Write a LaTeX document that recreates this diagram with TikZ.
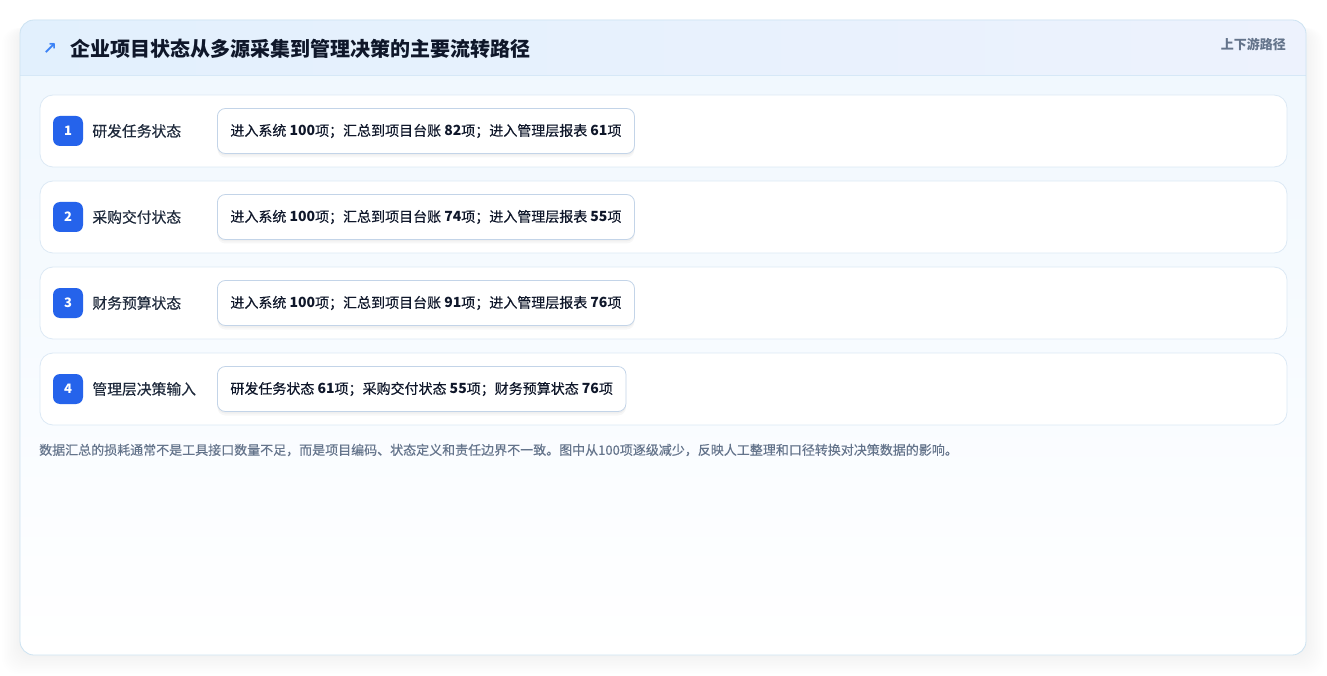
\documentclass[tikz,border=0pt]{standalone}
\usepackage{fontspec}
\setmainfont{Noto Sans CJK SC}
\newfontfamily\medfont{Noto Sans CJK SC}[UprightFeatures={FakeBold=0.3}]
\newfontfamily\iconfont{DejaVu Sans}
\usetikzlibrary{positioning}

\definecolor{cardline}{HTML}{CDE3F2}
\definecolor{cardtop}{HTML}{EFF7FE}
\definecolor{headl}{HTML}{E2F0FD}
\definecolor{headr}{HTML}{EDF2FD}
\definecolor{headline}{HTML}{D6E8F7}
\definecolor{rowline}{HTML}{DCE9F5}
\definecolor{pillline}{HTML}{C3D4E8}
\definecolor{badgeblue}{HTML}{2563EB}
\definecolor{iconblue}{HTML}{3B82F6}
\definecolor{labelink}{HTML}{1E293B}
\definecolor{pillink}{HTML}{0F172A}
\definecolor{titleink}{HTML}{0F172A}
\definecolor{tagink}{HTML}{64748B}
\definecolor{noteink}{HTML}{64748B}

\newcommand{\nb}[1]{\textbf{#1}}

\tikzset{
    rowbox/.style={draw=rowline, fill=white, line width=0.8pt, rounded corners=13pt,
        minimum width=1247pt, minimum height=72pt, inner sep=0pt},
    badge/.style={fill=badgeblue, rounded corners=7pt, minimum size=30pt, inner sep=0pt,
        text=white, font=\fontsize{13}{13}\selectfont\bfseries},
    rowlabel/.style={anchor=west, inner sep=0pt, text=labelink,
        font=\medfont\fontsize{14.8}{15}\selectfont},
    pill/.style={anchor=west, draw=pillline, fill=white, line width=0.8pt, rounded corners=8pt,
        minimum height=45pt, inner xsep=13pt, text=pillink,
        font=\medfont\fontsize{14}{14}\selectfont,
        preaction={fill=black, fill opacity=0.03, transform canvas={yshift=-4pt}},
        preaction={fill=black, fill opacity=0.03, transform canvas={yshift=-2pt}}}
}

\begin{document}
\begin{tikzpicture}[x=1pt,y=-1pt]
    \useasboundingbox (0,0) rectangle (1327,676);
    \fill[white] (0,0) rectangle (1327,676);

    % soft shadow under the card
    \foreach \s in {1,...,12}
        \fill[black, opacity=0.0055, rounded corners=16pt]
            (20-1.5*\s,20+8) rectangle (1306+1.5*\s,655+1.6*\s);

    % card and header band
    \shade[top color=cardtop, bottom color=white, rounded corners=14pt] (20,20) rectangle (1306,655);
    \begin{scope}
        \clip[rounded corners=14pt] (20,20) rectangle (1306,655);
        \shade[left color=headl, right color=headr] (20,20) rectangle (1306,75);
    \end{scope}
    \draw[headline, line width=0.8pt] (20,75) -- (1306,75);
    \draw[cardline, line width=0.8pt, rounded corners=14pt] (20,20) rectangle (1306,655);

    \node[text=iconblue, inner sep=0pt, font=\iconfont\fontsize{17}{17}\selectfont\bfseries] (icon) at (50,49) {↗};
    \node[anchor=west, inner sep=0pt, text=titleink, font=\fontsize{20}{20}\selectfont\bfseries]
        (title) at (70,49) {企业项目状态从多源采集到管理决策的主要流转路径};
    \node[anchor=east, inner sep=0pt, text=tagink, font=\fontsize{13}{13}\selectfont\bfseries]
        (tag) at (1286,44) {上下游路径};

    % row 1
    \node[rowbox] (r1) at (663.5,131) {};
    \node[badge] (b1) at (68,131) {1};
    \node[rowlabel, right=9pt of b1] (l1) {研发任务状态};
    \node[pill] (p1) at (217,131) {进入系统 \nb{100}项；汇总到项目台账 \nb{82}项；进入管理层报表 \nb{61}项};

    % row 2
    \node[rowbox] (r2) at (663.5,217) {};
    \node[badge] (b2) at (68,217) {2};
    \node[rowlabel, right=9pt of b2] (l2) {采购交付状态};
    \node[pill] (p2) at (217,217) {进入系统 \nb{100}项；汇总到项目台账 \nb{74}项；进入管理层报表 \nb{55}项};

    % row 3
    \node[rowbox] (r3) at (663.5,303) {};
    \node[badge] (b3) at (68,303) {3};
    \node[rowlabel, right=9pt of b3] (l3) {财务预算状态};
    \node[pill] (p3) at (217,303) {进入系统 \nb{100}项；汇总到项目台账 \nb{91}项；进入管理层报表 \nb{76}项};

    % row 4
    \node[rowbox] (r4) at (663.5,389) {};
    \node[badge] (b4) at (68,389) {4};
    \node[rowlabel, right=9pt of b4] (l4) {管理层决策输入};
    \node[pill] (p4) at (217,389) {研发任务状态 \nb{61}项；采购交付状态 \nb{55}项；财务预算状态 \nb{76}项};

    \node[anchor=west, inner sep=0pt, text=noteink, font=\medfont\fontsize{13}{13}\selectfont]
        (note) at (39,450) {数据汇总的损耗通常不是工具接口数量不足，而是项目编码、状态定义和责任边界不一致。图中从100项逐级减少，反映人工整理和口径转换对决策数据的影响。};
\end{tikzpicture}
\end{document}
